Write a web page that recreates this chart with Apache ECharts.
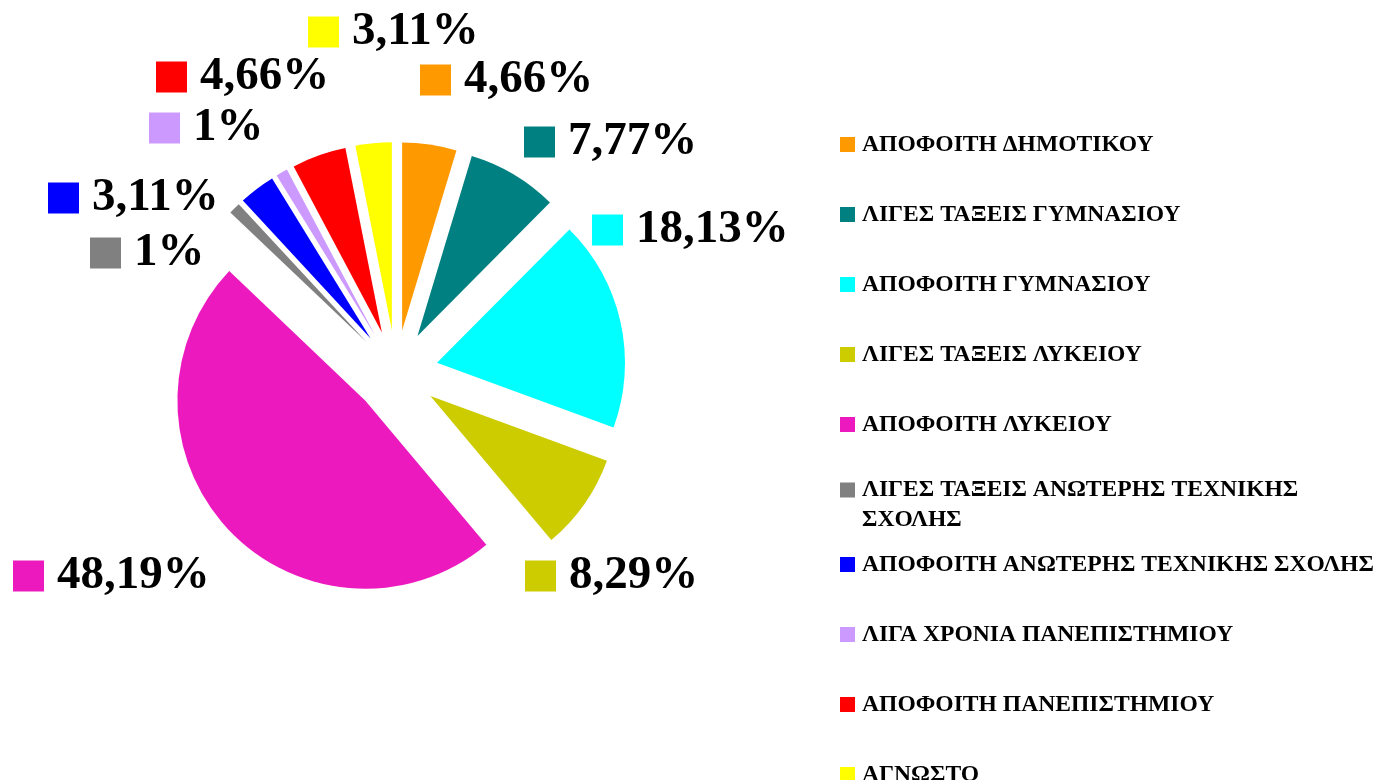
<!DOCTYPE html>
<html>
<head>
<meta charset="utf-8">
<script src="https://cdn.jsdelivr.net/npm/echarts@6/dist/echarts.min.js"></script>
<style>
  html, body { margin: 0; padding: 0; background: #ffffff; }
  #chart { width: 1380px; height: 780px; }
</style>
</head>
<body>
<div id="chart"></div>
<script>
// Education level categories and their shares (%)
const categories = [
  'ΑΠΟΦΟΙΤΗ ΔΗΜΟΤΙΚΟΥ',
  'ΛΙΓΕΣ ΤΑΞΕΙΣ ΓΥΜΝΑΣΙΟΥ',
  'ΑΠΟΦΟΙΤΗ ΓΥΜΝΑΣΙΟΥ',
  'ΛΙΓΕΣ ΤΑΞΕΙΣ ΛΥΚΕΙΟΥ',
  'ΑΠΟΦΟΙΤΗ ΛΥΚΕΙΟΥ',
  'ΛΙΓΕΣ ΤΑΞΕΙΣ ΑΝΩΤΕΡΗΣ ΤΕΧΝΙΚΗΣ ΣΧΟΛΗΣ',
  'ΑΠΟΦΟΙΤΗ ΑΝΩΤΕΡΗΣ ΤΕΧΝΙΚΗΣ ΣΧΟΛΗΣ',
  'ΛΙΓΑ ΧΡΟΝΙΑ ΠΑΝΕΠΙΣΤΗΜΙΟΥ',
  'ΑΠΟΦΟΙΤΗ ΠΑΝΕΠΙΣΤΗΜΙΟΥ',
  'ΑΓΝΩΣΤΟ'
];
const shares = [4.66, 7.77, 18.13, 8.29, 48.19, 1, 3.11, 1, 4.66, 3.11];

// Slice colours
const colors = ['#FF9900', '#008080', '#00FFFF', '#CCCC00', '#EC1ABE',
                '#808080', '#0000FF', '#CC99FF', '#FF0000', '#FFFF00'];

// Label placement (left edge of key square, vertical middle)
const labelSpots = [
  [420, 80], [524, 142], [592, 230], [525, 576], [13, 576],
  [90, 253], [48, 198], [149, 128], [156, 77], [308, 32]
];

const FONT = '"Liberation Serif", "Times New Roman", serif';
const PIE_CENTER = [396, 372];
const PIE_RADIUS = 188;
const EXPLODE = 42;       // distance every slice is pulled out from the centre

function pct(v) {
  return String(v).replace('.', ',') + '%';
}

const rich = { t: { fontFamily: FONT, fontWeight: 'bold', fontSize: 47, color: '#000', padding: [0, 0, 0, 13] } };
colors.forEach(function (c, i) {
  rich['s' + i] = { backgroundColor: c, width: 31, height: 31 };
});

// Each slice is drawn by its own pie (same angles), shifted outward along its bisector
const total = shares.reduce(function (a, b) { return a + b; }, 0);
let cumulative = 0;
const series = shares.map(function (v, i) {
  const mid = (cumulative + v / 2) / total * Math.PI * 2;
  cumulative += v;
  const center = [PIE_CENTER[0] + EXPLODE * Math.sin(mid), PIE_CENTER[1] - EXPLODE * Math.cos(mid)];
  return {
    type: 'pie',
    center: center,
    radius: PIE_RADIUS,
    startAngle: 90,
    clockwise: true,
    avoidLabelOverlap: false,
    silent: true,
    emphasis: { disabled: true },
    itemStyle: { borderWidth: 0 },
    label: { show: false },
    labelLine: { show: false },
    labelLayout: function (params) {
      const s = labelSpots[params.dataIndex];
      return { x: s[0], y: s[1], align: 'left', verticalAlign: 'middle' };
    },
    data: categories.map(function (name, j) {
      const own = j === i;
      return {
        name: name,
        value: shares[j],
        itemStyle: { color: own ? colors[j] : 'rgba(0,0,0,0)' },
        label: own ? {
          show: true,
          position: 'outside',
          formatter: function (p) {
            return '{s' + p.dataIndex + '|}{t|' + pct(p.value) + '}';
          },
          rich: rich
        } : { show: false }
      };
    })
  };
});

// One legend block per category so every entry sits on a fixed row
const WRAPPED = 'ΛΙΓΕΣ ΤΑΞΕΙΣ ΑΝΩΤΕΡΗΣ ΤΕΧΝΙΚΗΣ\nΣΧΟΛΗΣ';
const legends = categories.map(function (name, i) {
  const twoLine = name.length > 36;
  const centerY = 140 + i * 70;
  return {
    data: [{ name: name, itemStyle: { color: colors[i] } }],
    orient: 'vertical',
    left: 840,
    top: twoLine ? centerY - 45 : centerY - 7.5,
    itemWidth: 15,
    itemHeight: 15,
    icon: 'rect',
    selectedMode: false,
    padding: 0,
    // the wrapped entry gets a blank first line so its first text line lines up with the key
    formatter: function (n) {
      return n.length > 36 ? '\n' + WRAPPED : n;
    },
    textStyle: {
      fontFamily: FONT,
      fontWeight: 'bold',
      fontSize: 23.6,
      color: '#000',
      lineHeight: twoLine ? 30 : 15,
      padding: [0, 0, 0, 2]
    }
  };
});

const chart = echarts.init(document.getElementById('chart'), null, { renderer: 'canvas' });
chart.setOption({
  animation: false,
  backgroundColor: '#ffffff',
  legend: legends,
  series: series
});
</script>
</body>
</html>
